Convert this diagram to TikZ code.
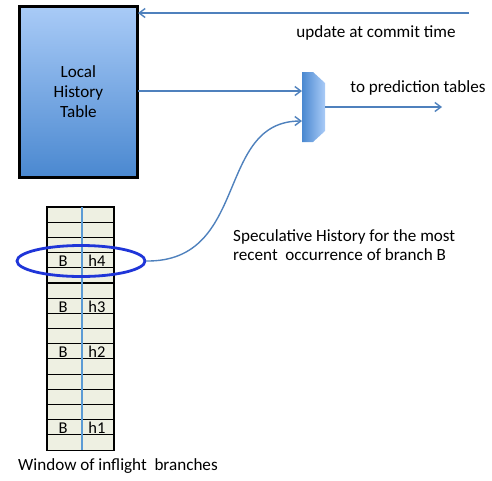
\documentclass[tikz,border=0pt]{standalone}
\usepackage{fontspec}
\setmainfont{Carlito}
\usetikzlibrary{arrows.meta,shadows,shapes.geometric}
\definecolor{arr}{HTML}{4F81BD}
\definecolor{lt}{HTML}{A9CBF7}
\definecolor{dk}{HTML}{4A88D0}
\definecolor{cellfill}{HTML}{EEF0E2}
\definecolor{ell}{HTML}{1F35D8}
\definecolor{midline}{HTML}{5B9BD5}
\tikzset{
  conn/.style={draw=arr, line width=1.4pt, -{Straight Barb[length=6pt,width=9pt]}},
  lbl/.style={font=\fontsize{17.1}{19}\selectfont, inner sep=0pt, align=left},
  cell/.style={draw=black, fill=cellfill, line width=1.1pt},
  celltxt/.style={font=\fontsize{16.5}{18}\selectfont, inner sep=0pt, anchor=base},
}
\begin{document}
\begin{tikzpicture}[x=1pt,y=-1pt]
\useasboundingbox (0,0) rectangle (492,480);
% Local history table
\node[draw=black, line width=2.8pt, minimum width=118pt, minimum height=171pt,
      top color=lt, bottom color=dk, anchor=north west,
      drop shadow={shadow xshift=1.5pt, shadow yshift=-1.5pt, opacity=0.35},
      font=\fontsize{17.1}{20}\selectfont, align=center] (lht) at (18,5)
      {Local\\History\\Table};
% mux
\path[left color=dk, right color=lt, shading angle=90]
  (302,72) -- (313,72) -- (325,83) -- (325,131) -- (313,142) -- (302,142) -- cycle;
\coordinate (muxin1) at (302,91);
\coordinate (muxin2) at (302,121);
\coordinate (muxout) at (325,107);
\coordinate (outend) at (442,107);
\coordinate (updstart) at (469,13);
\coordinate (lhtin) at (138,13);
\coordinate (lhtout) at (138,91);
% connectors
\draw[conn] (updstart) -- (lhtin);
\draw[conn] (lhtout) -- (muxin1);
\draw[conn] (muxout) -- (outend);
% window of inflight branches
\foreach \i in {0,...,15}{
  \draw[cell] (47,{207+\i*15.19}) rectangle (114,{207+(\i+1)*15.19});
}
\draw[midline, line width=1.2pt] (82,207) -- (82,450);
\foreach \r/\h in {3/h4,6/h3,9/h2,14/h1}{
  \node[celltxt] at (63,{207+(\r+1)*15.19-1}) {B};
  \node[celltxt] at (97,{207+(\r+1)*15.19-1}) {\h};
}
\node[draw=ell, line width=2.8pt, ellipse, minimum width=128pt, minimum height=31pt, inner sep=0pt] (el) at (81,261) {};
\draw[conn] (el.east) .. controls (250,262) and (215,121) .. (muxin2);
% labels
\node[lbl] (t1) at (376,33) {update at commit time};
\node[lbl] (t2) at (418,88) {to prediction tables};
\node[lbl, anchor=west] (t3) at (233,245) {Speculative History for the most\\recent\ \ occurrence of branch B};
\node[lbl, anchor=west] (t4) at (18,466) {Window of inflight\ \ branches};
\end{tikzpicture}
\end{document}
